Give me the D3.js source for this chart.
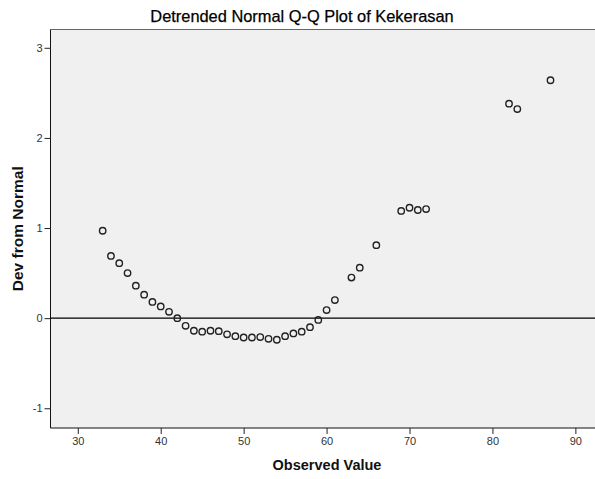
<!DOCTYPE html>
<html>
<head>
<meta charset="utf-8">
<script src="https://cdn.jsdelivr.net/npm/d3@7"></script>
<style>
  html, body { margin: 0; padding: 0; background: #ffffff; }
  svg { display: block; }
</style>
</head>
<body>
<svg id="chart" width="595" height="479"></svg>
<script>
const observedValues = [33, 34, 35, 36, 37, 38, 39, 40, 41, 42, 43, 44, 45, 46, 47, 48, 49, 50, 51, 52, 53, 54, 55, 56, 57, 58, 59, 60, 61, 63, 64, 66, 69, 70, 71, 72, 82, 83, 87];
const devFromNormal = [0.97, 0.69, 0.61, 0.50, 0.36, 0.26, 0.18, 0.13, 0.07, 0.00, -0.085, -0.14, -0.15, -0.14, -0.145, -0.18, -0.20, -0.215, -0.215, -0.21, -0.23, -0.24, -0.20, -0.17, -0.15, -0.10, -0.02, 0.09, 0.20, 0.45, 0.56, 0.81, 1.19, 1.225, 1.20, 1.21, 2.38, 2.32, 2.64];
const xTicks = [30, 40, 50, 60, 70, 80, 90];
const yTicks = [-1, 0, 1, 2, 3];
const titleText = "Detrended Normal Q-Q Plot of Kekerasan";
const xLabel = "Observed Value";
const yLabel = "Dev from Normal";

(function () {
const svg = d3.select("#chart");
const pL = 50.5, pT = 29.5, pR = 600, pB = 428;

const x = d3.scaleLinear().domain([26.71, 92.97]).range([pL, pR]);
const y = d3.scaleLinear().domain([3.203, -1.219]).range([pT, pB]);

// plot background
svg.append("rect")
  .attr("x", pL).attr("y", pT)
  .attr("width", pR - pL).attr("height", pB - pT)
  .attr("fill", "#f0f0f0");

// frame lines
svg.append("line").attr("x1", pL).attr("x2", pR).attr("y1", pT).attr("y2", pT)
  .attr("stroke", "#666").attr("stroke-width", 1);
svg.append("line").attr("x1", pL).attr("x2", pL).attr("y1", pT).attr("y2", pB)
  .attr("stroke", "#111").attr("stroke-width", 1);
svg.append("line").attr("x1", pL).attr("x2", pR).attr("y1", pB).attr("y2", pB)
  .attr("stroke", "#111").attr("stroke-width", 1);

const fmt = d => String(d);

// axes
const xAxis = d3.axisBottom(x).tickValues(xTicks).tickSize(6).tickPadding(3).tickFormat(fmt);
const gx = svg.append("g").attr("transform", `translate(0,${pB})`).call(xAxis);
gx.select(".domain").remove();
gx.selectAll(".tick line").attr("stroke", "#222");
gx.selectAll(".tick text").attr("fill", "#333")
  .style("font-family", "'Liberation Sans', Arial, sans-serif").style("font-size", "11px");

const yAxis = d3.axisLeft(y).tickValues(yTicks).tickSize(6).tickPadding(2).tickFormat(fmt);
const gy = svg.append("g").attr("transform", `translate(${pL},0)`).call(yAxis);
gy.select(".domain").remove();
gy.selectAll(".tick line").attr("stroke", "#222");
gy.selectAll(".tick text").attr("fill", "#333")
  .style("font-family", "'Liberation Sans', Arial, sans-serif").style("font-size", "11px");

// zero reference line
svg.append("line")
  .attr("x1", pL).attr("x2", pR)
  .attr("y1", y(0)).attr("y2", y(0))
  .attr("stroke", "#000").attr("stroke-width", 1.2);

// points
const pts = observedValues.map((v, i) => ({ v, d: devFromNormal[i] }));
svg.append("g").selectAll("circle").data(pts).join("circle")
  .attr("cx", p => x(p.v)).attr("cy", p => y(p.d))
  .attr("r", 3.2)
  .attr("fill", "none")
  .attr("stroke", "#222")
  .attr("stroke-width", 1.4);

// title
svg.append("text")
  .attr("x", 302).attr("y", 22)
  .attr("text-anchor", "middle")
  .style("font-family", "'Liberation Sans', Arial, sans-serif")
  .style("font-size", "16.4px")
  .attr("fill", "#000")
  .attr("stroke", "#000").attr("stroke-width", 0.25)
  .text(titleText);

// x label
svg.append("text")
  .attr("x", 327).attr("y", 470)
  .attr("text-anchor", "middle")
  .style("font-family", "'Liberation Sans', Arial, sans-serif")
  .style("font-size", "14.5px").style("font-weight", "bold")
  .attr("fill", "#111")
  .text(xLabel);

// y label
svg.append("text")
  .attr("transform", `translate(23,${(pT + pB) / 2}) rotate(-90)`)
  .attr("text-anchor", "middle")
  .style("font-family", "'Liberation Sans', Arial, sans-serif")
  .style("font-size", "15.5px").style("font-weight", "bold")
  .attr("fill", "#111")
  .text(yLabel);
})();
</script>
</body>
</html>
